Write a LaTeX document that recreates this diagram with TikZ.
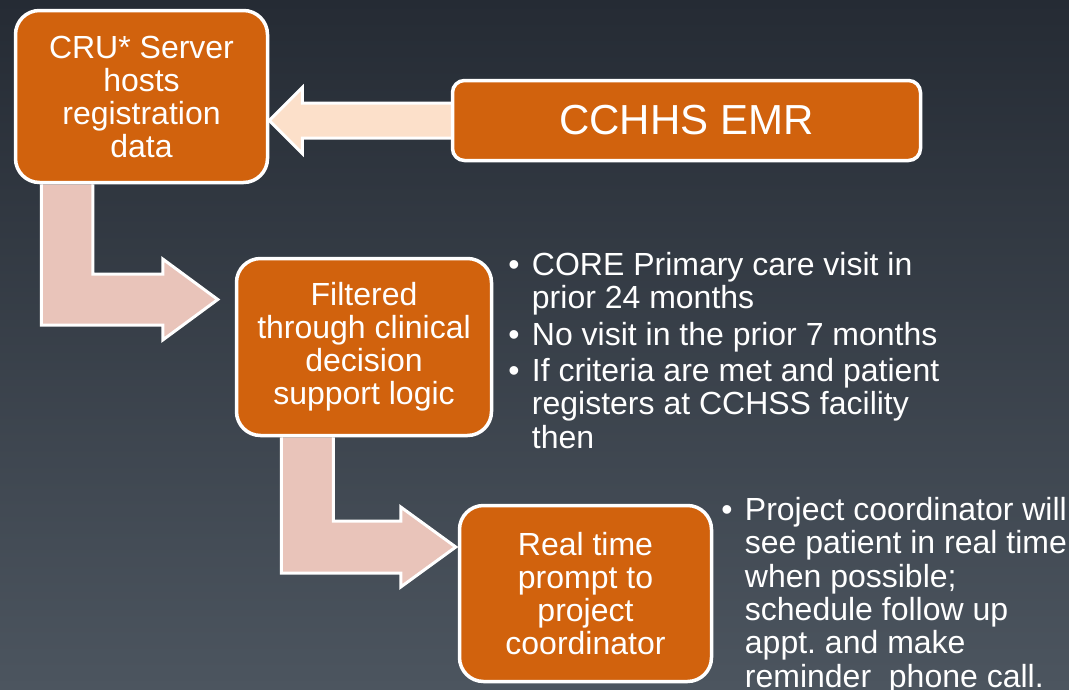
\documentclass[tikz,border=0pt]{standalone}
\usepackage{fontspec}
\setmainfont{Liberation Sans}
\usetikzlibrary{positioning,calc}

\definecolor{boxorange}{HTML}{D1620D}
\definecolor{peach}{HTML}{FCE0CA}
\definecolor{rose}{HTML}{E9C4BA}
\definecolor{bgtop}{HTML}{252B34}
\definecolor{bgmid}{HTML}{2F363F}
\definecolor{bgbot}{HTML}{4C555F}

\pgfdeclarelayer{back}
\pgfsetlayers{back,main}

\newcommand{\bl}{\makebox[23.5pt][l]{\textbullet}}
\newcommand{\ind}{\hspace*{23.5pt}}

\begin{document}
\begin{tikzpicture}[x=1pt, y=-1pt,
    box/.style={draw=white, line width=3.5pt, fill=boxorange, rounded corners=24pt,
        text=white, align=center, font=\fontsize{32}{33}\selectfont, inner sep=0pt},
    bigarrow/.style={draw=white, line width=3pt, line join=miter},
    bullets/.style={text=white, align=left, font=\fontsize{32}{33.3}\selectfont,
        inner sep=0pt, anchor=north west}]
    \useasboundingbox (0,0) rectangle (1069,689);

    % Boxes
    \node[box, minimum width=252pt, minimum height=172pt] (cru) at (141.5,96.5) {CRU* Server\\hosts\\registration\\data};
    \node[box, rounded corners=12pt, minimum width=468pt, minimum height=80pt,
        font=\fontsize{42}{44}\selectfont] (emr) at (686.5,120.5) {CCHHS EMR};
    \node[box, minimum width=255pt, minimum height=177pt] (filt) at (364,347) {Filtered\\through clinical\\decision\\support logic};
    \node[box, minimum width=252pt, minimum height=176pt] (prompt) at (585.5,593.5) {Real time\\prompt to\\project\\coordinator};

    % Bullet lists
    \node[bullets] (criteria) at ($(filt.north east)+(15,-4.5)$) {\bl CORE Primary care visit in\\ \ind prior 24 months\\[3pt] \bl No visit in the prior 7 months\\[3pt] \bl If criteria are met and patient\\ \ind registers at CCHSS facility\\ \ind then};
    \node[bullets] (tasks) at ($(prompt.north east)+(8,-6.5)$) {\bl Project coordinator will\\ \ind see patient in real time\\ \ind when possible;\\ \ind schedule follow up\\ \ind appt.\ and make\\ \ind reminder\ \ phone call.};

    \begin{pgfonlayer}{back}
        \shade[top color=bgtop, middle color=bgmid, bottom color=bgbot] (0,0) rectangle (1069,689);

        % EMR feeds the server
        \draw[bigarrow, fill=peach] ($(emr.west)+(0,-17.5)$) -- ($(cru.east |- emr.west)+(33,-17.5)$) -- ++(0,-15.5)
            -- (cru.east |- emr.west) -- ++(33,33) -- ++(0,-15.5) -- ($(emr.west)+(0,17.5)$);

        % Server to filter
        \coordinate (tipA) at ($(filt.west)+(-17,-47.5)$);
        \draw[bigarrow, fill=rose] ($(cru.south west)+(79,0)$) |- ($(tipA)+(-55,-25.5)$) -- ++(0,-15) -- (tipA)
            -- ++(-55,40.5) -- ++(0,-15) -| ($(cru.south west)+(27.5,0)$);

        % Filter to prompt
        \coordinate (tipB) at ($(prompt.west)+(-2,-46.5)$);
        \draw[bigarrow, fill=rose] ($(filt.south west)+(98.5,0)$) |- ($(tipB)+(-55,-26)$) -- ++(0,-14) -- (tipB)
            -- ++(-55,40) -- ++(0,-14) -| ($(filt.south west)+(46.5,0)$);
    \end{pgfonlayer}
\end{tikzpicture}
\end{document}
